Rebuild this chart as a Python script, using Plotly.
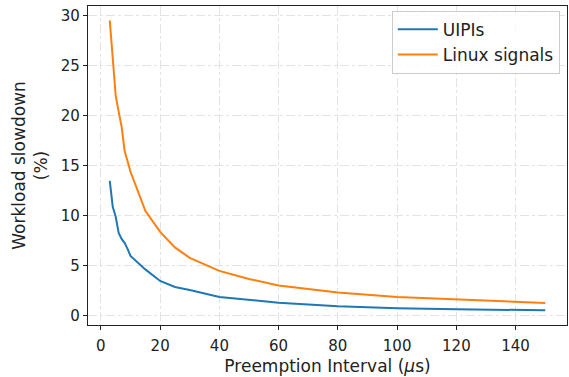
import plotly.graph_objects as go

interval_us = [3, 4, 5, 6, 7, 8, 9, 10, 15, 20, 25, 30, 40, 50, 60, 80, 100, 120, 140, 150]
uipi_slowdown = [13.5, 10.9, 9.9, 8.3, 7.7, 7.3, 6.7, 6.0, 4.65, 3.5, 2.9, 2.6, 1.9, 1.6, 1.33, 0.97, 0.77, 0.67, 0.6, 0.57]
signal_slowdown = [29.5, 25.3, 22.0, 20.4, 18.9, 16.5, 15.5, 14.4, 10.5, 8.4, 6.85, 5.8, 4.5, 3.7, 3.05, 2.35, 1.9, 1.63, 1.43, 1.3]

series_names = ["UIPIs", "Linux signals"]
series_colors = ["#1f77b4", "#ff7f0e"]

x_ticks = [0, 20, 40, 60, 80, 100, 120, 140]
y_ticks = [0, 5, 10, 15, 20, 25, 30]

fig = go.Figure()
for name, ys, col in zip(series_names, [uipi_slowdown, signal_slowdown], series_colors):
    fig.add_trace(go.Scatter(x=interval_us, y=ys, mode="lines", name=name,
                             line=dict(color=col, width=2)))

tick_font = dict(family="DejaVu Sans", size=15, color="#222")
label_font = dict(family="DejaVu Sans", size=17, color="#222")
axis_common = dict(showline=True, linecolor="#222", linewidth=1.2, mirror=True,
                   ticks="outside", ticklen=4, tickcolor="#222", tickwidth=1,
                   showgrid=True, gridcolor="#e3e3e3", gridwidth=1, griddash="dashdot",
                   zeroline=False, tickfont=tick_font, automargin=False)

fig.update_layout(
    width=569, height=377,
    margin=dict(l=88, r=2, t=6, b=52),
    plot_bgcolor="white", paper_bgcolor="white",
    font=label_font,
    xaxis=dict(range=[-4.35, 157.35], tickvals=x_ticks, ticklabelstandoff=3,
               title=dict(text="Preemption Interval (<i>μ</i>s)", font=label_font, standoff=6),
               **axis_common),
    yaxis=dict(range=[-0.9, 30.95], tickvals=y_ticks,
               title=dict(text="Workload slowdown<br>(%)", font=label_font, standoff=8),
               **axis_common),
    legend=dict(x=0.985, y=0.985, xanchor="right", yanchor="top",
                bgcolor="rgba(255,255,255,0.8)", bordercolor="#cccccc", borderwidth=1,
                font=label_font, itemwidth=40, tracegroupgap=0),
    showlegend=True,
)

fig.write_html("out.html", config={"displayModeBar": False},
               post_script="document.body.style.margin='0';")
